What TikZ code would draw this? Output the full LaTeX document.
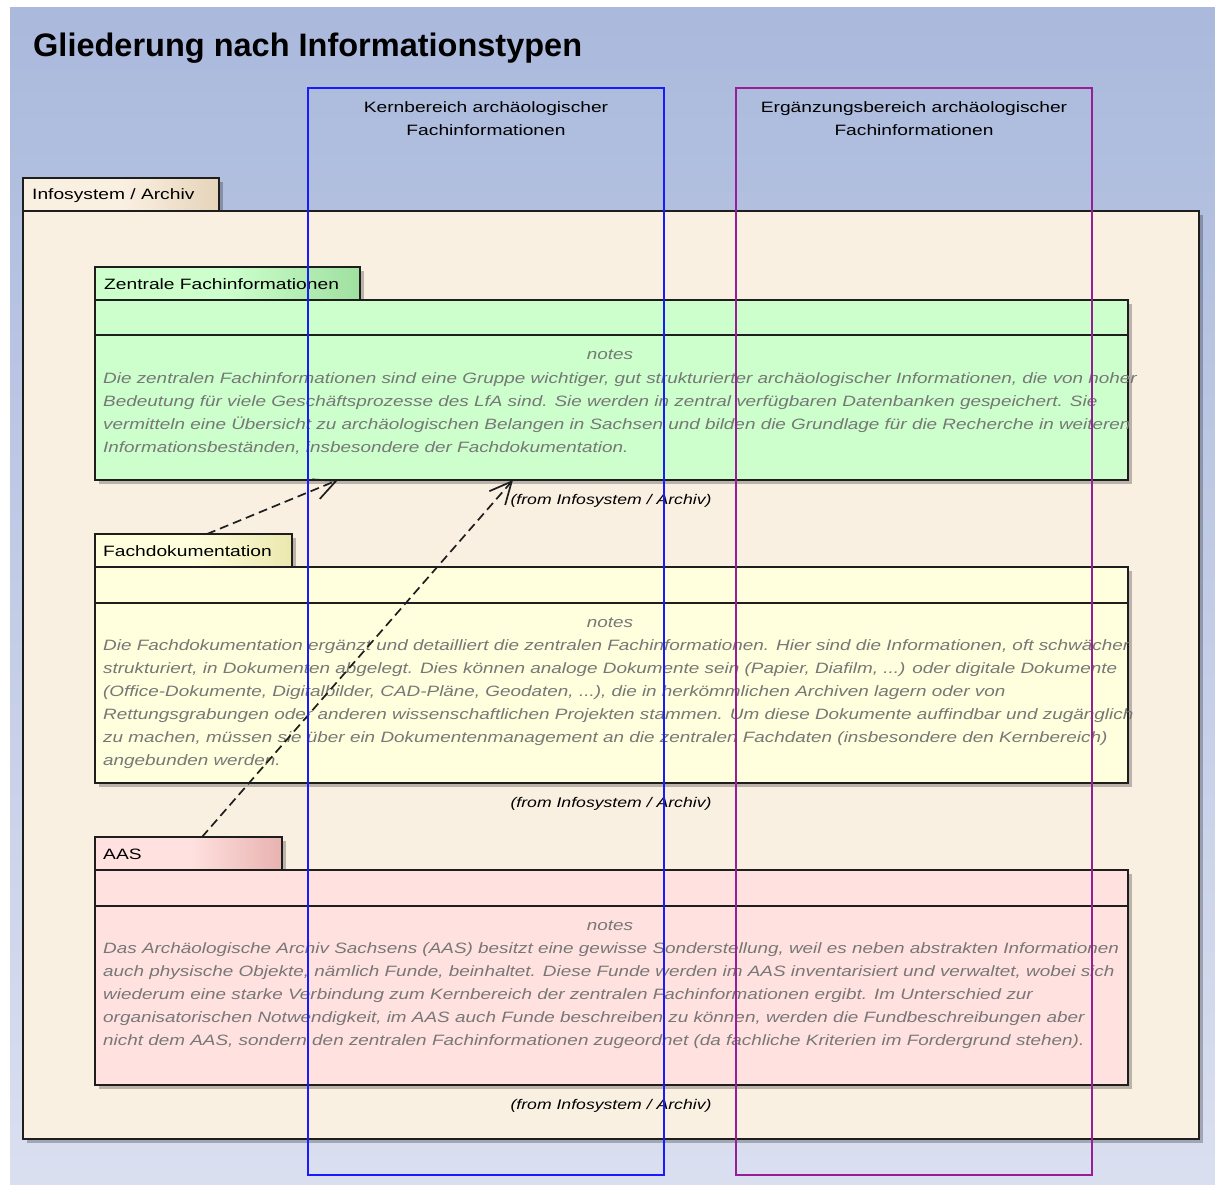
\documentclass[tikz,border=0pt]{standalone}
\usepackage{fontspec}
\setmainfont{Liberation Sans}
\newfontfamily\labelfont[FakeStretch=1.28]{Liberation Sans}
\newfontfamily\notefont[FakeStretch=1.26]{Liberation Sans Italic}
\newfontfamily\titlefont{Liberation Sans Bold}
\usetikzlibrary{arrows.meta,shadows}

\definecolor{bgtop}{HTML}{AAB9DC}
\definecolor{bgbottom}{HTML}{DADFF0}
\definecolor{cream}{HTML}{FAF0E2}
\definecolor{creamdark}{HTML}{E6D4BA}
\definecolor{greenfill}{HTML}{CCFFCC}
\definecolor{greendark}{HTML}{9FE09F}
\definecolor{yellowfill}{HTML}{FFFFDD}
\definecolor{yellowdark}{HTML}{EBE8AE}
\definecolor{rosefill}{HTML}{FFE2E0}
\definecolor{rosedark}{HTML}{E8B2B0}
\definecolor{notegrey}{HTML}{777777}
\definecolor{coreblue}{HTML}{1A1AFF}
\definecolor{suppurple}{HTML}{981E98}
\definecolor{edge}{HTML}{1E1E1E}

\tikzset{
  pkgpart/.style={draw=edge, line width=1.8pt, inner sep=0pt, outer sep=0pt,
    anchor=north west, rectangle,
    drop shadow={shadow xshift=4pt, shadow yshift=-4pt, fill=black, opacity=0.25}},
  divider/.style={draw=edge, line width=1.6pt},
  tablabel/.style={font=\labelfont\fontsize{15}{18}\selectfont, anchor=base west, inner sep=0pt},
  noteline/.style={font=\notefont\fontsize{15}{18}\selectfont, text=notegrey, anchor=base west, inner sep=0pt},
  notehead/.style={font=\notefont\fontsize{15}{18}\selectfont, text=notegrey, anchor=base, inner sep=0pt},
  fromlabel/.style={font=\notefont\fontsize{14}{18}\selectfont, anchor=base, inner sep=0pt},
  lanehead/.style={font=\labelfont\fontsize{15}{18}\selectfont, anchor=base, inner sep=0pt},
  lane/.style={line width=1.5pt, inner sep=0pt, outer sep=0pt, anchor=north west, rectangle},
  depend/.style={draw=edge, line width=1.7pt, dash pattern=on 9pt off 5pt,
    -{Straight Barb[length=22pt,width=21pt]}}
}

\begin{document}
\begin{tikzpicture}[x=1pt, y=-1pt]
  \useasboundingbox (0,0) rectangle (1215,1184);
  % backdrop
  \shade[top color=bgtop, bottom color=bgbottom] (10,7) rectangle (1215,1184);

  \node[anchor=base west, inner sep=0pt, font=\titlefont\fontsize{32.5}{36}\selectfont]
    (title) at (33,56) {Gliederung nach Informationstypen};

  % outer package
  \node[pkgpart, left color=cream, right color=creamdark, middle color=cream,
        minimum width=196pt, minimum height=33pt] (istab) at (23,178) {};
  \node[pkgpart, fill=cream, minimum width=1176pt, minimum height=928pt] (isbody) at (23,211) {};
  \node[tablabel] (islabel) at (32,199) {Infosystem / Archiv};

  % Zentrale Fachinformationen
  \node[pkgpart, left color=greenfill, right color=greendark, middle color=greenfill,
        minimum width=265pt, minimum height=33pt] (zftab) at (95,267) {};
  \node[pkgpart, fill=greenfill, minimum width=1033pt, minimum height=180pt] (zfbody) at (95,300) {};
  \draw[divider] ([yshift=-35pt]zfbody.north west) -- ([yshift=-35pt]zfbody.north east);
  \node[tablabel] (zflabel) at (104,289) {Zentrale Fachinformationen};
  \node[notehead] (zfnotes) at (610,359) {notes};
  \node[noteline] (zf1) at (103,383) {Die zentralen Fachinformationen sind eine Gruppe wichtiger, gut strukturierter archäologischer Informationen, die von hoher};
  \node[noteline] (zf2) at (103,406) {Bedeutung für viele Geschäftsprozesse des LfA sind. Sie werden in zentral verfügbaren Datenbanken gespeichert. Sie};
  \node[noteline] (zf3) at (103,429) {vermitteln eine Übersicht zu archäologischen Belangen in Sachsen und bilden die Grundlage für die Recherche in weiteren};
  \node[noteline] (zf4) at (103,452) {Informationsbeständen, insbesondere der Fachdokumentation.};
  \node[fromlabel] (zffrom) at (611,504) {(from Infosystem / Archiv)};

  % Fachdokumentation
  \node[pkgpart, left color=yellowfill, right color=yellowdark, middle color=yellowfill,
        minimum width=197pt, minimum height=33pt] (fdtab) at (95,534) {};
  \node[pkgpart, fill=yellowfill, minimum width=1033pt, minimum height=216pt] (fdbody) at (95,567) {};
  \draw[divider] ([yshift=-36pt]fdbody.north west) -- ([yshift=-36pt]fdbody.north east);
  \node[tablabel] (fdlabel) at (103,556) {Fachdokumentation};
  \node[notehead] (fdnotes) at (610,627) {notes};
  \node[noteline] (fd1) at (103,650) {Die Fachdokumentation ergänzt und detailliert die zentralen Fachinformationen. Hier sind die Informationen, oft schwächer};
  \node[noteline] (fd2) at (103,673) {strukturiert, in Dokumenten abgelegt. Dies können analoge Dokumente sein (Papier, Diafilm, ...) oder digitale Dokumente};
  \node[noteline] (fd3) at (103,696) {(Office-Dokumente, Digitalbilder, CAD-Pläne, Geodaten, ...), die in herkömmlichen Archiven lagern oder von};
  \node[noteline] (fd4) at (103,719) {Rettungsgrabungen oder anderen wissenschaftlichen Projekten stammen. Um diese Dokumente auffindbar und zugänglich};
  \node[noteline] (fd5) at (103,742) {zu machen, müssen sie über ein Dokumentenmanagement an die zentralen Fachdaten (insbesondere den Kernbereich)};
  \node[noteline] (fd6) at (103,765) {angebunden werden.};
  \node[fromlabel] (fdfrom) at (611,807) {(from Infosystem / Archiv)};

  % AAS
  \node[pkgpart, left color=rosefill, right color=rosedark, middle color=rosefill,
        minimum width=187pt, minimum height=33pt] (aastab) at (95,837) {};
  \node[pkgpart, fill=rosefill, minimum width=1033pt, minimum height=215pt] (aasbody) at (95,870) {};
  \draw[divider] ([yshift=-36pt]aasbody.north west) -- ([yshift=-36pt]aasbody.north east);
  \node[tablabel] (aaslabel) at (103,859) {AAS};
  \node[notehead] (aasnotes) at (610,930) {notes};
  \node[noteline] (aas1) at (103,953) {Das Archäologische Archiv Sachsens (AAS) besitzt eine gewisse Sonderstellung, weil es neben abstrakten Informationen};
  \node[noteline] (aas2) at (103,976) {auch physische Objekte, nämlich Funde, beinhaltet. Diese Funde werden im AAS inventarisiert und verwaltet, wobei sich};
  \node[noteline] (aas3) at (103,999) {wiederum eine starke Verbindung zum Kernbereich der zentralen Fachinformationen ergibt. Im Unterschied zur};
  \node[noteline] (aas4) at (103,1022) {organisatorischen Notwendigkeit, im AAS auch Funde beschreiben zu können, werden die Fundbeschreibungen aber};
  \node[noteline] (aas5) at (103,1045) {nicht dem AAS, sondern den zentralen Fachinformationen zugeordnet (da fachliche Kriterien im Fordergrund stehen).};
  \node[fromlabel] (aasfrom) at (611,1109) {(from Infosystem / Archiv)};

  % dependencies
  \draw[depend] ([xshift=112pt]fdtab.north west) -- ([xshift=243pt]zfbody.south west);
  \draw[depend] ([xshift=107pt]aastab.north west) -- ([xshift=418pt]zfbody.south west);

  % lanes
  \node[lane, draw=coreblue, minimum width=356pt, minimum height=1087pt] (corelane) at (308,88) {};
  \node[lane, draw=suppurple, minimum width=356pt, minimum height=1087pt] (suplane) at (736,88) {};
  \node[lanehead] (core1) at (486,112) {Kernbereich archäologischer};
  \node[lanehead] (core2) at (486,135) {Fachinformationen};
  \node[lanehead] (sup1) at (914,112) {Ergänzungsbereich archäologischer};
  \node[lanehead] (sup2) at (914,135) {Fachinformationen};
\end{tikzpicture}
\end{document}
